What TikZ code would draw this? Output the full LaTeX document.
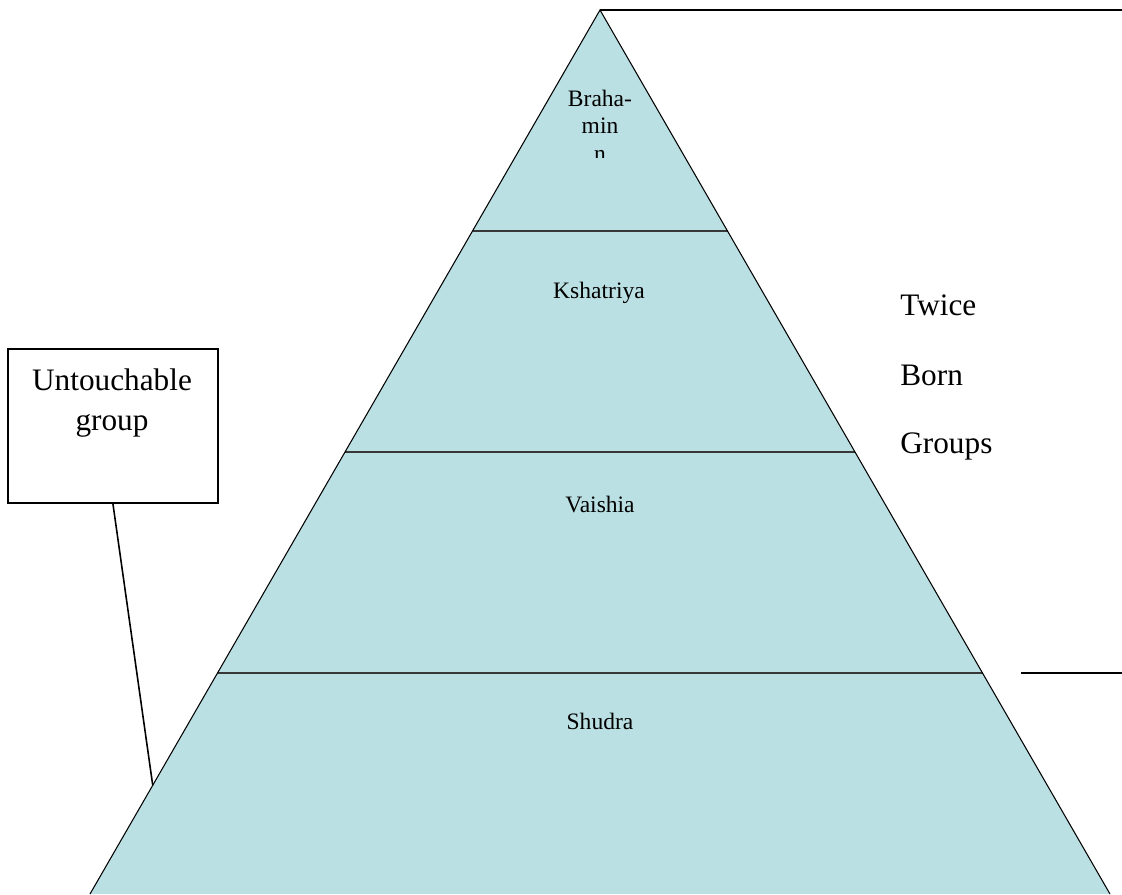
\documentclass[tikz,border=0pt]{standalone}
\usepackage{fontspec}
\setmainfont{Liberation Serif}
\usetikzlibrary{positioning,calc}
\definecolor{castefill}{RGB}{187,224,227}
\definecolor{tiergray}{RGB}{55,55,55}

\begin{document}
\begin{tikzpicture}[x=0.02cm, y=-0.02cm, every node/.style={inner sep=0pt},
                    castelabel/.style={font=\fontsize{13.4}{16}\selectfont, anchor=base},
                    biglabel/.style={font=\fontsize{17.8}{21}\selectfont, anchor=base},
                    tierline/.style={draw=tiergray, line width=0.9pt},
                    frameline/.style={draw=black, line width=1.1pt}]
  \useasboundingbox (0,0) rectangle (1122,894);
  % the pyramid
  \coordinate (apex) at (600,10);
  \coordinate (bl) at (90,894);
  \coordinate (br) at (1110,894);
  \fill[castefill] (apex) -- (bl) -- (br) -- cycle;
  \foreach \t/\n in {0.25/a, 0.5/b, 0.75/c}
    \draw[tierline] ($(apex)!\t!(bl)$) coordinate (left\n) -- ($(apex)!\t!(br)$) coordinate (right\n);
  \draw[line width=0.6pt] (bl) -- (apex) -- (br);
  % brackets on the right
  \coordinate (topend) at (1122,10);
  \coordinate (cutL) at (1021,673);
  \coordinate (cutR) at (1122,673);
  \draw[frameline] (apex) -- (topend);
  \draw[frameline] (cutL) -- (cutR);
  % caste names
  \begin{scope}
    \clip (540,70) rectangle (660,157);
    \node (brahA) [castelabel] at (600,106) {Braha-};
    \node (brahB) [castelabel] at (600,133) {min};
    \node (brahC) [castelabel] at (600,161) {n};
  \end{scope}
  \node (kshatriya) [castelabel] at (599,298) {Kshatriya};
  \node (vaishia)   [castelabel] at (600,512) {Vaishia};
  \node (shudra)    [castelabel] at (600,729) {Shudra};
  \node (twice)  [biglabel, anchor=base west] at (900,315) {Twice};
  \node (born)   [biglabel, anchor=base west] at (900,385) {Born};
  \node (groups) [biglabel, anchor=base west] at (900,453) {Groups};
  % untouchable box
  \node (untouch) [frameline, minimum width=4.2cm, minimum height=3.08cm, anchor=north west] at (7,348) {};
  \node (untouchA) [biglabel] at (112,390) {Untouchable};
  \node (untouchB) [biglabel] at (112,430) {group};
  \coordinate (foot) at ($(apex)!0.877!(bl)$);
  \draw[line width=0.9pt] (untouch.south) -- (foot);
\end{tikzpicture}
\end{document}
